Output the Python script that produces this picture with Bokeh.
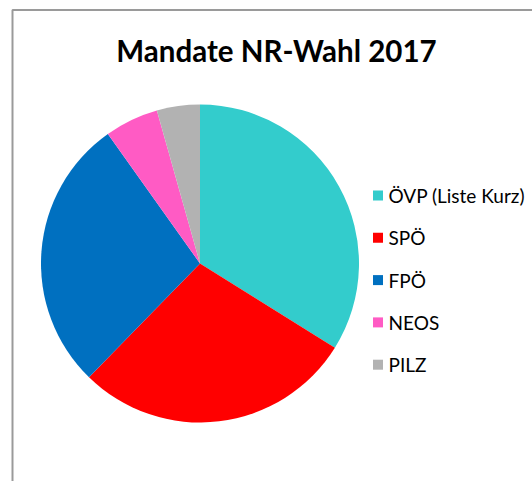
import numpy as np
from bokeh.plotting import figure
from bokeh.models import Range1d, ColumnDataSource
from bokeh.core.properties import value
from bokeh.embed import file_html
from bokeh.resources import INLINE

# Data
parties = ["ÖVP (Liste Kurz)", "SPÖ", "FPÖ", "NEOS", "PILZ"]
seats = [62, 52, 51, 10, 8]
colors = ["#33CCCC", "#FF0000", "#0070C0", "#FF5BC4", "#B2B2B2"]
title_text = "Mandate NR-Wahl 2017"

W, H = 532, 481
p = figure(width=W, height=H, output_backend="svg", toolbar_location=None,
           x_range=Range1d(0, W), y_range=Range1d(0, H), min_border=0)
p.axis.visible = False
p.grid.visible = False
p.outline_line_color = None
p.background_fill_color = "white"
p.border_fill_color = "white"

def Y(ypix):
    return H - ypix

# chart border (cropped Excel chart area)
p.quad(left=[12], right=[W + 10], top=[Y(9.5)], bottom=[-10],
       fill_color=None, line_color="#9A9A9A", line_width=2)

# pie
vals = np.array(seats, dtype=float)
frac = vals / vals.sum()
cum = np.concatenate([[0], np.cumsum(frac)])
start = np.pi / 2 - cum[:-1] * 2 * np.pi
end = np.pi / 2 - cum[1:] * 2 * np.pi
src = ColumnDataSource(dict(start=start, end=end, color=colors, name=parties))
cx, cy, r = 199.5, Y(263), 159
p.wedge(x=cx, y=cy, radius=r, start_angle="start", end_angle="end",
        direction="clock", fill_color="color", line_color=None, source=src)

# title
p.text(x=[276], y=[Y(50)], text=[title_text], text_font=value("Lato"),
       text_font_style="bold", text_font_size="29.5px", text_align="center",
       text_baseline="middle", text_color="#000000")

# legend
ly = [Y(195 + 42.3 * i) for i in range(len(parties))]
p.rect(x=[377.5] * len(parties), y=ly, width=10, height=10,
       fill_color=colors, line_color=None)
p.text(x=[388] * len(parties), y=ly, text=parties, text_font=value("Lato"),
       text_font_size="19px", text_baseline="middle", text_color="#000000")

open("out.html", "w").write(file_html(p, INLINE))
